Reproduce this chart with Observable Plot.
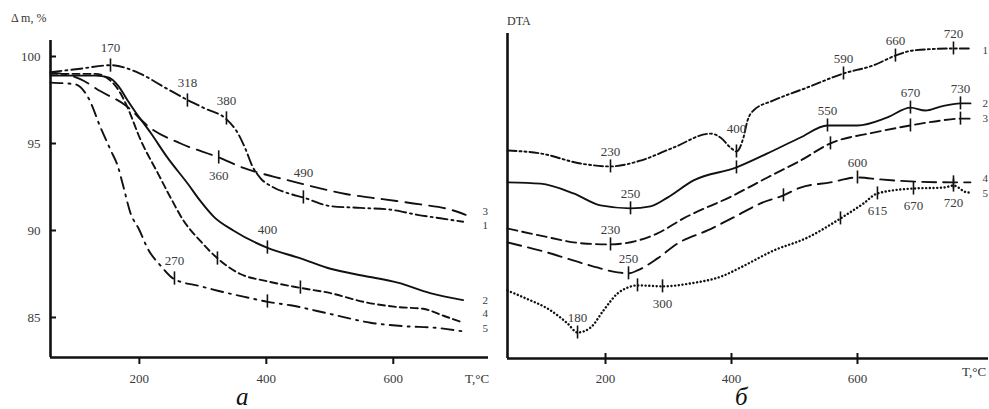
<!DOCTYPE html>
<html><head><meta charset="utf-8">
<script src="https://cdn.jsdelivr.net/npm/d3@7"></script>
<script src="https://cdn.jsdelivr.net/npm/@observablehq/plot@0.6"></script>
<style>
body{margin:0;background:#fff;}
#wrap{position:relative;width:989px;height:409px;overflow:hidden;font-family:"Liberation Serif",serif;color:#333;}
.lab{position:absolute;white-space:nowrap;line-height:1;}
#pa{position:absolute;left:0;top:0}
#pb{position:absolute;left:490px;top:0}
.cap{position:absolute;font-style:italic;font-size:25px;color:#111;line-height:1;}
</style></head><body>
<div id="wrap">
<div id="pa"></div><div id="pb"></div>
<div class="lab" style="left:11px;top:12px;font-size:12px">Δ m, %</div>
<div class="lab" style="left:507px;top:15px;font-size:12px">DTA</div>
<div class="lab" style="left:465px;top:372px;font-size:13px">T,°C</div>
<div class="lab" style="left:962px;top:365px;font-size:13px">T,°C</div>
<div class="cap" style="left:236px;top:384px">а</div>
<div class="cap" style="left:735px;top:384px">б</div>
</div>
<script>
// ---------- Panel а : mass loss (TG) ----------
const tgXDomain = [60, 750];
const tgYDomain = [82.7, 100.92];
const tgXTicks = [200, 400, 600];
const tgYTicks = [85, 90, 95, 100];

const tg1T = [60,107,155,202,241,276,304,337,355,367,378,391,410,438,458,501,548,595,638,674,710];
const tg1M = [99.1,99.3,99.5,99.0,98.2,97.5,97.0,96.4,95.6,94.7,93.7,93.0,92.5,92.1,91.9,91.4,91.3,91.2,90.9,90.7,90.5];
const tg2T = [60,131,151,167,181,194,218,244,276,296,317,348,402,454,501,553,607,658,710];
const tg2M = [98.9,98.9,98.8,98.3,97.5,96.8,95.6,94.2,92.7,91.7,90.8,90.0,89.0,88.4,87.8,87.4,87.0,86.4,86.0];
const tg3T = [60,107,139,178,217,265,325,364,411,433,465,525,583,643,690,714];
const tg3M = [99.1,98.7,98.0,97.2,95.9,95.0,94.2,93.6,93.1,92.9,92.6,92.1,91.8,91.5,91.2,90.9];
const tg4T = [60,131,155,170,181,202,229,249,269,296,323,359,399,454,501,553,607,647,679,710];
const tg4M = [99.0,99.0,98.6,97.9,97.1,95.2,93.3,91.9,90.6,89.4,88.4,87.5,87.1,86.7,86.4,85.9,85.6,85.5,85.1,84.7];
const tg5T = [60,99,120,139,155,166,175,186,199,214,233,255,296,339,364,402,438,501,564,616,669,710];
const tg5M = [98.5,98.4,97.6,95.9,94.6,93.7,92.5,91.0,90.1,88.9,88.0,87.2,86.8,86.4,86.2,85.9,85.7,85.2,84.7,84.5,84.4,84.2];

const tgMarksAbove = [
  {T:154.5, v:99.48, label:"170"},
  {T:275.7, v:97.47, label:"318"},
  {T:337.2, v:96.44, label:"380"},
  {T:401.7, v:89.02, label:"400"},
  {T:255.3, v:87.24, label:"270"}
];
const tgMarksFar = [{T:458.4, v:91.9, label:"490"}];
const tgMarksBelow = [{T:325, v:94.2, label:"360"}];
const tgMarksPlain = [{T:323, v:88.39}, {T:453.7, v:86.72}, {T:401.7, v:85.92}];
const tgLegend = [
  {T:745, v:90.29, label:"1"}, {T:745, v:85.98, label:"2"}, {T:745, v:91.09, label:"3"},
  {T:745, v:85.23, label:"4"}, {T:745, v:84.37, label:"5"}
];

// ---------- Panel б : DTA ----------
const dtaXDomain = [44.4, 808];
const dtaYDomain = [0, 100];
const dtaXTicks = [200, 400, 600];

const d1T = [44.4,96.8,160.3,207.9,255.6,307.9,366.7,382.5,398.4,407.9,419,425.4,434.9,466.7,520.6,577.8,625.4,660.3,688.9,752.4,779.4];
const d1V = [64,63.1,60,59.1,60.9,64.9,69.2,68,64.9,63.7,68,73.2,76.3,79.4,83.4,87.7,90.2,93.2,94.8,95.4,95.4];
const d2T = [44.4,96.8,149.2,192.1,239.7,271.4,298.4,339.7,407.9,457.1,509.5,552.4,600,647.6,684.1,708,731.7,763.5,779.4];
const d2V = [54.2,53.8,50.8,47.1,46.2,46.8,49.5,54.8,58.8,63.1,68,71.7,71.7,74.2,77.2,76.3,77.5,78.5,78.5];
const d3T = [44.4,96.8,165.1,207.9,228.6,282.5,323.8,403.2,457.1,509.5,557.1,625.4,684.1,731.7,763.5,779.4];
const d3V = [40,37.8,35.4,35.1,35.4,38.5,43.1,50.2,55.7,60.9,66.2,69.5,71.7,73.2,73.8,73.8];
const d4T = [44.4,96.8,176.2,219,236.5,250.8,282.5,314.3,361.9,403.2,446,482.5,509.5,557.1,600,636.5,684.1,752.4,779.4];
const d4V = [35.7,33.2,28.6,26.5,26.2,27.1,30.8,35.4,39.4,43.4,47.7,50.2,52.6,54.2,55.7,55.1,54.5,54.2,54.2];
const d5T = [44.4,69.8,112.7,139.7,155.6,176.2,196.8,219,234.9,250.8,290.5,334.9,387.3,414.3,466.7,520.6,573,609.5,631.7,688.9,736.5,752.4,774.6,779.4];
const d5V = [20.9,18.8,14.8,10.8,8,9.5,14.8,20,21.8,22.5,22.2,23.1,25.5,28,33.2,37.2,43.1,47.7,50.8,52.3,52.6,53.2,51.1,51.1];

const dMarksAbove = [
  {T:207.9, v:59.1, label:"230"}, {T:577.8, v:87.7, label:"590"}, {T:660.3, v:93.2, label:"660"},
  {T:752.4, v:95.4, label:"720"}, {T:239.7, v:46.2, label:"250"}, {T:552.4, v:71.7, label:"550"},
  {T:684.1, v:77.2, label:"670"}, {T:763.5, v:78.5, label:"730"}, {T:207.9, v:35.1, label:"230"},
  {T:236.5, v:26.2, label:"250"}, {T:600, v:55.7, label:"600"}, {T:155.6, v:8, label:"180"}
];
const dMarksFar = [{T:407.9, v:63.7, label:"400"}];
const dMarksBelow = [
  {T:290.5, v:22.2, label:"300"}, {T:631.7, v:50.8, label:"615"},
  {T:688.9, v:52.3, label:"670"}, {T:752.4, v:53.2, label:"720"}
];
const dMarksPlain = [
  {T:407.9, v:58.8}, {T:557.1, v:66.2}, {T:684.1, v:71.7}, {T:763.5, v:73.8},
  {T:482.5, v:50.2}, {T:752.4, v:54.2}, {T:250.8, v:22.5}, {T:573, v:43.1}
];
const dLegend = [
  {T:803, v:94.8, label:"1"}, {T:803, v:78.5, label:"2"}, {T:803, v:73.8, label:"3"},
  {T:803, v:55.4, label:"4"}, {T:803, v:50.8, label:"5"}
];

// ---------- helpers ----------
const zip = (T, V) => T.map((t, i) => ({T: t, v: V[i]}));
const ink = "#111";
const txt = "#3a3a3a";
const font = "Liberation Serif";
const lineOpts = {x: "T", y: "v", stroke: ink, strokeWidth: 1.9, curve: "monotone-x"};

function markerMarks(all, half, groups) {
  const out = [Plot.ruleX(all, {x: "T", y1: d => d.v - half, y2: d => d.v + half, stroke: ink, strokeWidth: 1.6})];
  for (const [data, dy] of groups) {
    out.push(Plot.text(data, {x: "T", y: "v", text: "label", dy, fill: txt, fontSize: 13, fontFamily: font}));
  }
  return out;
}

// ---------- Panel а ----------
const A = {w: 500, h: 409, ml: 50, mr: 12, mt: 40, mb: 52};
const tgAllMarks = [...tgMarksAbove, ...tgMarksFar, ...tgMarksBelow, ...tgMarksPlain];
const plotA = Plot.plot({
  width: A.w, height: A.h, marginLeft: A.ml, marginRight: A.mr, marginTop: A.mt, marginBottom: A.mb,
  style: {fontFamily: font, fontSize: "13px", color: txt, background: "transparent"},
  x: {domain: tgXDomain}, y: {domain: tgYDomain},
  marks: [
    Plot.axisY(tgYTicks, {tickSize: 0, tickPadding: 10, label: null, fontSize: 13}),
    Plot.tickY(tgYTicks, {y: d => d, insetRight: (A.w - A.ml - A.mr) - 6, stroke: ink, strokeWidth: 2}),
    Plot.axisX(tgXTicks, {tickSize: 7, tickPadding: 9, label: null, fontSize: 13, stroke: ink, strokeWidth: 2}),
    Plot.ruleX([tgXDomain[0]], {stroke: ink, strokeWidth: 2.6}),
    Plot.ruleY([tgYDomain[0]], {stroke: ink, strokeWidth: 2.6}),
    Plot.line(zip(tg1T, tg1M), {...lineOpts, strokeDasharray: "11,4,2,4"}),
    Plot.line(zip(tg2T, tg2M), {...lineOpts}),
    Plot.line(zip(tg3T, tg3M), {...lineOpts, strokeDasharray: "16,8"}),
    Plot.line(zip(tg4T, tg4M), {...lineOpts, strokeDasharray: "7,4"}),
    Plot.line(zip(tg5T, tg5M), {...lineOpts, strokeDasharray: "12,6,2,6"}),
    ...markerMarks(tgAllMarks, 0.38, [[tgMarksAbove, -18], [tgMarksFar, -25], [tgMarksBelow, 18]]),
    Plot.text(tgLegend, {x: "T", y: "v", text: "label", fill: txt, fontSize: 11, fontFamily: font})
  ]
});
document.getElementById("pa").appendChild(plotA);

// ---------- Panel б ----------
const B = {w: 499, h: 409, ml: 17, mr: 1, mt: 33, mb: 51};
const dAllMarks = [...dMarksAbove, ...dMarksFar, ...dMarksBelow, ...dMarksPlain];
const plotB = Plot.plot({
  width: B.w, height: B.h, marginLeft: B.ml, marginRight: B.mr, marginTop: B.mt, marginBottom: B.mb,
  style: {fontFamily: font, fontSize: "13px", color: txt, background: "transparent", overflow: "visible"},
  x: {domain: dtaXDomain}, y: {domain: dtaYDomain, axis: null},
  marks: [
    Plot.axisX(dtaXTicks, {tickSize: 0, tickPadding: 15, label: null, fontSize: 13}),
    Plot.tickX(dtaXTicks, {x: d => d, insetTop: (B.h - B.mt - B.mb) - 5, insetBottom: -6, stroke: ink, strokeWidth: 2}),
    Plot.ruleX([dtaXDomain[0]], {stroke: ink, strokeWidth: 2.6}),
    Plot.ruleY([dtaYDomain[0]], {stroke: ink, strokeWidth: 2.6}),
    Plot.line(zip(d1T, d1V), {...lineOpts, strokeDasharray: "9,3,2,3,2,3"}),
    Plot.line(zip(d2T, d2V), {...lineOpts}),
    Plot.line(zip(d3T, d3V), {...lineOpts, strokeDasharray: "10,5"}),
    Plot.line(zip(d4T, d4V), {...lineOpts, strokeDasharray: "14,7"}),
    Plot.line(zip(d5T, d5V), {...lineOpts, strokeWidth: 2.4, strokeLinecap: "round", strokeDasharray: "0.1,3.6"}),
    ...markerMarks(dAllMarks, 2, [[dMarksAbove, -15], [dMarksFar, -23], [dMarksBelow, 17]]),
    Plot.text(dLegend, {x: "T", y: "v", text: "label", fill: txt, fontSize: 11, fontFamily: font})
  ]
});
document.getElementById("pb").appendChild(plotB);
</script>
</body></html>
